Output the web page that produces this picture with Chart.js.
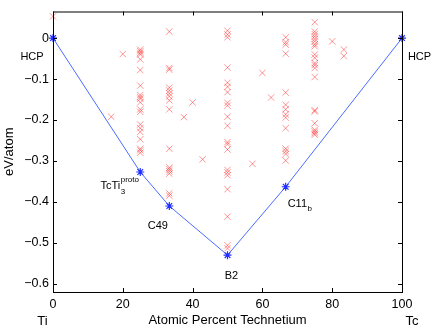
<!DOCTYPE html>
<html>
<head>
<meta charset="utf-8">
<script src="https://cdn.jsdelivr.net/npm/chart.js@4.4.0/dist/chart.umd.min.js"></script>
<style>
  body { margin: 0; background: #fff; }
</style>
</head>
<body>
<canvas id="hullChart" width="436" height="330"></canvas>
<script>
// Ti-Tc convex hull (ground states)
const hullX = [0, 25, 33.33, 50, 66.67, 100];
const hullY = [0, -0.327, -0.410, -0.530, -0.363, 0];
const hullNames = ['HCP', 'TcTi', 'C49', 'B2', 'C11', 'HCP'];

// other calculated structures, grouped by composition
const candComps = [0, 16.67, 20, 25, 33.33, 37.5, 40, 42.86, 50, 57.14, 60, 62.5, 66.67, 75, 80, 83.33];
const candEnergies = [
  [0.053],
  [-0.192],
  [-0.039],
  [-0.028, -0.032, -0.036, -0.040, -0.052, -0.078, -0.116, -0.139, -0.144, -0.148, -0.157,
   -0.174, -0.180, -0.211, -0.220, -0.229, -0.247, -0.270, -0.274, -0.280],
  [0.016, -0.073, -0.077, -0.121, -0.128, -0.135, -0.142, -0.152, -0.174, -0.270, -0.316,
   -0.320, -0.325, -0.331, -0.379, -0.385],
  [-0.193],
  [-0.157],
  [-0.296],
  [0.018, 0.009, 0.002, -0.072, -0.109, -0.119, -0.132, -0.158, -0.165, -0.192, -0.214,
   -0.254, -0.259, -0.272, -0.322, -0.328, -0.335, -0.369, -0.436, -0.506, -0.513],
  [-0.307],
  [-0.085],
  [-0.145],
  [0.002, -0.010, -0.016, -0.038, -0.133, -0.163, -0.174, -0.186, -0.194, -0.220, -0.270,
   -0.276, -0.283, -0.299],
  [0.039, 0.016, 0.010, 0.004, -0.002, -0.008, -0.015, -0.020, -0.040, -0.048, -0.061,
   -0.066, -0.073, -0.095, -0.176, -0.179, -0.208, -0.224, -0.228, -0.232, -0.236],
  [-0.008],
  [-0.028, -0.044]
];

const xTicks = [0, 20, 40, 60, 80, 100];
const yTicks = [0, -0.1, -0.2, -0.3, -0.4, -0.5, -0.6];

const FONT = "'Liberation Sans', Arial, Helvetica, sans-serif";

const candPoints = [];
candComps.forEach((c, i) => {
  candEnergies[i].forEach(e => candPoints.push({x: c, y: e}));
});

// label placement next to each hull point (pixel offsets, baseline)
const labelPos = [
  {dx: -21, dy: 22, align: 'center'},
  {dx: -20, dy: 17, align: 'right', sub: '3', sup: 'proto'},
  {dx: -11.5, dy: 23, align: 'center'},
  {dx: 4, dy: 24, align: 'center'},
  {dx: 2, dy: 20, align: 'left', sub: 'b'},
  {dx: 17.5, dy: 22, align: 'center'}
];

const framePlugin = {
  id: 'frame',
  afterDraw(chart) {
    const ctx = chart.ctx;
    const a = chart.chartArea;
    const xs = chart.scales.x, ys = chart.scales.y;
    ctx.save();
    ctx.strokeStyle = '#000';
    ctx.lineWidth = 1;
    ctx.strokeRect(a.left + 0.5, a.top + 0.5, a.right - a.left, a.bottom - a.top);
    // inward tick marks on all four sides
    const tl = 4;
    ctx.beginPath();
    xTicks.forEach(v => {
      const px = Math.round(xs.getPixelForValue(v)) + 0.5;
      ctx.moveTo(px, a.bottom); ctx.lineTo(px, a.bottom - tl);
      ctx.moveTo(px, a.top); ctx.lineTo(px, a.top + tl);
    });
    yTicks.forEach(v => {
      const py = Math.round(ys.getPixelForValue(v)) + 0.5;
      ctx.moveTo(a.left, py); ctx.lineTo(a.left + tl, py);
      ctx.moveTo(a.right, py); ctx.lineTo(a.right - tl, py);
    });
    ctx.stroke();

    // element names under the axis ends
    ctx.fillStyle = '#000';
    ctx.font = '13px ' + FONT;
    ctx.textAlign = 'center';
    ctx.textBaseline = 'alphabetic';
    ctx.fillText('Ti', xs.getPixelForValue(0) - 10.5, 325);
    ctx.fillText('Tc', xs.getPixelForValue(100) + 10, 325);

    // phase names
    hullNames.forEach((name, i) => {
      const p = labelPos[i];
      const px = xs.getPixelForValue(hullX[i]) + p.dx;
      const py = ys.getPixelForValue(hullY[i]) + p.dy;
      ctx.font = '11px ' + FONT;
      ctx.textAlign = p.align;
      ctx.fillText(name, px, py);
      let endX = px;
      if (p.align === 'center') endX = px + ctx.measureText(name).width / 2;
      if (p.align === 'left') endX = px + ctx.measureText(name).width;
      ctx.font = '8px ' + FONT;
      ctx.textAlign = 'left';
      if (p.sub) ctx.fillText(p.sub, endX + 0.5, py + 4.5);
      if (p.sup) ctx.fillText(p.sup, endX + 0.5, py - 7.5);
    });
    ctx.restore();
  }
};

new Chart(document.getElementById('hullChart'), {
  type: 'scatter',
  data: {
    datasets: [
      {
        label: 'hull',
        data: hullX.map((x, i) => ({x: x, y: hullY[i]})),
        showLine: true,
        borderColor: '#4a6cff',
        borderWidth: 1,
        pointStyle: 'star',
        pointRadius: 4,
        pointBorderColor: '#1f2fff',
        pointBorderWidth: 1.2,
        pointBackgroundColor: 'transparent',
        clip: false,
        tension: 0
      },
      {
        label: 'structures',
        data: candPoints,
        showLine: false,
        pointStyle: 'crossRot',
        pointRadius: 4.5,
        pointBorderColor: 'rgba(255, 0, 0, 0.42)',
        pointBorderWidth: 1,
        clip: false
      }
    ]
  },
  options: {
    responsive: false,
    animation: false,
    events: [],
    layout: { padding: {left: 0, right: 34, top: 8, bottom: 0} },
    plugins: {
      legend: { display: false },
      tooltip: { enabled: false }
    },
    scales: {
      x: {
        type: 'linear',
        min: 0,
        max: 100,
        afterBuildTicks: s => { s.ticks = xTicks.map(v => ({value: v})); },
        afterFit: s => { s.height = 38; },
        grid: { display: false, drawTicks: false },
        border: { display: false },
        ticks: {
          padding: 5,
          maxRotation: 0,
          color: '#000',
          font: { family: FONT, size: 12.5 }
        },
        title: {
          display: true,
          text: 'Atomic Percent Technetium',
          color: '#000',
          padding: {top: 0, bottom: 2},
          font: { family: FONT, size: 13 }
        }
      },
      y: {
        type: 'linear',
        min: -0.62,
        max: 0.065,
        afterBuildTicks: s => { s.ticks = yTicks.map(v => ({value: v})); },
        afterFit: s => { s.width = 53; },
        grid: { display: false, drawTicks: false },
        border: { display: false },
        ticks: {
          padding: 4,
          color: '#000',
          font: { family: FONT, size: 12.5 },
          callback: v => (v < 0 ? '\u2212' + Math.abs(v).toFixed(1) : String(v))
        },
        title: {
          display: true,
          text: 'eV/atom',
          color: '#000',
          padding: {top: 2, bottom: 0},
          font: { family: FONT, size: 13 }
        }
      }
    }
  },
  plugins: [framePlugin]
});
</script>
</body>
</html>
